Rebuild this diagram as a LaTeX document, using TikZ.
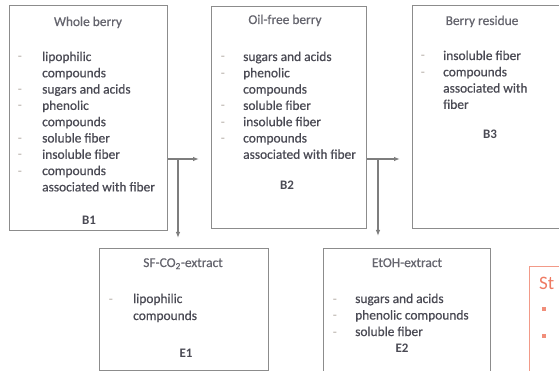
\documentclass[tikz,border=0pt]{standalone}
\usepackage{fontspec}
\setmainfont{Carlito}
\newfontfamily\medf{Carlito}[FakeBold=0.6]
\usetikzlibrary{arrows.meta}
\definecolor{txtc}{HTML}{4A4A54}
\definecolor{boxc}{HTML}{8C8C8C}
\definecolor{dashc}{HTML}{B5ADA6}
\definecolor{redc}{HTML}{EE7A62}
\definecolor{redl}{HTML}{F29A88}
\begin{document}
\begin{tikzpicture}[x=1pt,y=-1pt,
  boxn/.style={draw=boxc, line width=1.1pt, fill=white, inner sep=0, anchor=north west},
  item/.style={text=txtc, inner sep=0, anchor=base west, font=\medf\fontsize{13.4}{16.3}\selectfont},
  ttl/.style={text=txtc!85, inner sep=0, anchor=base, font=\medf\fontsize{13.4}{16.3}\selectfont},
  lbl/.style={text=txtc, inner sep=0, anchor=base, font=\bfseries\fontsize{13}{16}\selectfont},
  dsh/.style={text=dashc, inner sep=0, anchor=base, font=\fontsize{13.4}{16.3}\selectfont},
  conn/.style={draw=boxc!90!black, line width=1.1pt, -{Latex[length=6pt,width=4.5pt]}},
  redbox/.style={draw=redl, line width=1.1pt, inner sep=0, anchor=north west},
  bul/.style={fill=redc!85, inner sep=0, minimum size=3.6pt}
]
\useasboundingbox (0,0) rectangle (559,371);
\clip (0,0) rectangle (559,371);

% boxes
\node[boxn, minimum width=158, minimum height=225] (B1) at (9,5) {};
\node[boxn, minimum width=155, minimum height=222] (B2) at (211,6) {};
\node[boxn, minimum width=160, minimum height=223] (B3) at (412,5) {};
\node[boxn, minimum width=169, minimum height=122] (E1) at (99,248) {};
\node[boxn, minimum width=167, minimum height=124] (E2) at (323,248) {};
\node[redbox, minimum width=45, minimum height=120] (R) at (529,266) {};

% B1
\node[ttl] (B1t) at (88,26) {Whole berry};
\foreach \t [count=\i] in {lipophilic, compounds, sugars and acids, phenolic, compounds, soluble fiber, insoluble fiber, compounds, associated with fiber}
  \node[item] (b1l\i) at (42,{61+(\i-1)*16.3}) {\t};
\foreach \i in {1,3,4,6,7,8}
  \node[dsh] (b1d\i) at (20,{61+(\i-1)*16.3}) {-};
\node[lbl] (B1n) at (89,225) {B1};

% B2
\node[ttl] (B2t) at (285,24) {Oil-free berry};
\foreach \t [count=\i] in {sugars and acids, phenolic, compounds, soluble fiber, insoluble fiber, compounds, associated with fiber}
  \node[item] (b2l\i) at (243,{61+(\i-1)*16.3}) {\t};
\foreach \i in {1,2,4,5,6}
  \node[dsh] (b2d\i) at (223,{61+(\i-1)*16.3}) {-};
\node[lbl] (B2n) at (287,190) {B2};

% B3
\node[ttl] (B3t) at (482,25) {Berry residue};
\foreach \t [count=\i] in {insoluble fiber, compounds, associated with, fiber}
  \node[item] (b3l\i) at (443,{60+(\i-1)*16.3}) {\t};
\foreach \i in {1,2}
  \node[dsh] (b3d\i) at (423,{60+(\i-1)*16.3}) {-};
\node[lbl] (B3n) at (490,139) {B3};

% E1
\node[ttl] (E1t) at (183,267) {SF-CO\textsubscript{2}-extract};
\node[item] (e1l1) at (133,303) {lipophilic};
\node[item] (e1l2) at (133,320) {compounds};
\node[dsh] (e1d1) at (111,303) {-};
\node[lbl] (E1n) at (186,357) {E1};

% E2
\node[ttl] (E2t) at (407,267) {EtOH-extract};
\foreach \t [count=\i] in {sugars and acids, phenolic compounds, soluble fiber}
  \node[item] (e2l\i) at (355,{303+(\i-1)*16.5}) {\t};
\foreach \i in {1,2,3}
  \node[dsh] (e2d\i) at (335,{303+(\i-1)*16.5}) {-};
\node[lbl] (E2n) at (402,352) {E2};

% red box content
\node[text=redc, inner sep=0, anchor=base west, font=\fontsize{19}{22}\selectfont] (Rt) at (539,289) {St};
\node[bul] (Rb1) at (544,309) {};
\node[bul] (Rb2) at (544,336) {};

% connectors
\coordinate (j1) at (178,159);
\coordinate (a1) at (199,159);
\coordinate (a2) at (178,238);
\draw[conn] (B1.east |- j1) -- (a1);
\draw[conn] (j1) -- (a2);
\coordinate (j2) at (378,159);
\coordinate (a3) at (400,159);
\coordinate (a4) at (378,236);
\draw[conn] (B2.east |- j2) -- (a3);
\draw[conn] (j2) -- (a4);
\end{tikzpicture}
\end{document}
